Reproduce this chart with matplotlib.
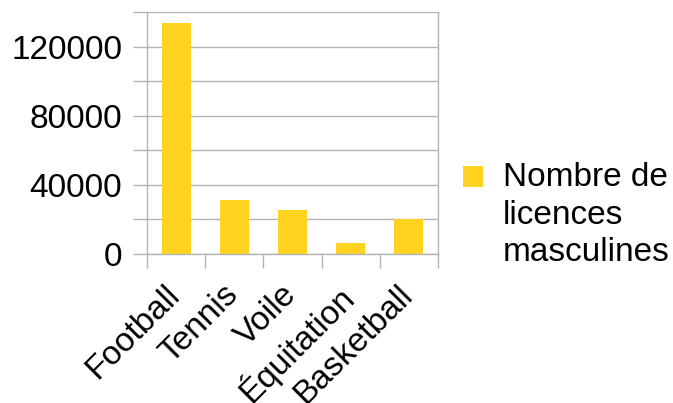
import matplotlib
matplotlib.use('Agg')
import matplotlib.pyplot as plt
from matplotlib.patches import Rectangle
from matplotlib.legend_handler import HandlerPatch
from matplotlib.ticker import FixedLocator, NullFormatter
from matplotlib.transforms import ScaledTranslation

plt.rcParams['font.family'] = ['Liberation Sans', 'DejaVu Sans']

sports = ['Football', 'Tennis', 'Voile', 'Équitation', 'Basketball']
licences = [133600, 31100, 25300, 6200, 20300]
series_name = 'Nombre de\nlicences\nmasculines'
y_ticks = [0, 20000, 40000, 60000, 80000, 100000, 120000, 140000]
y_labels = ['0', '', '40000', '', '80000', '', '120000', '']

bar_color = '#ffd320'
grid_color = '#b3b3b3'
fs = 24

fig = plt.figure(figsize=(6.73, 4.03), dpi=100)
ax = fig.add_axes([147 / 673, 1 - 254 / 403, 291 / 673, 242 / 403])

x = list(range(len(sports)))
bars = ax.bar(x, licences, width=0.5, color=bar_color, zorder=2)

ax.set_xlim(-0.5, len(sports) - 0.5)
ax.set_ylim(0, 140000)

# y axis: ticks every 20000, labels every 40000
ax.set_yticks(y_ticks)
ax.set_yticklabels(y_labels)
ax.yaxis.grid(True, color=grid_color, lw=1.0, zorder=0)
ax.tick_params(axis='y', length=10, width=1.0, color=grid_color, pad=8, labelsize=fs)

# x axis: tick marks at category boundaries, labels at centres
ax.xaxis.set_major_locator(FixedLocator([i - 0.5 for i in range(len(sports) + 1)]))
ax.xaxis.set_major_formatter(NullFormatter())
ax.xaxis.set_minor_locator(FixedLocator(x))
ax.set_xticklabels(sports, minor=True)
ax.tick_params(axis='x', which='major', length=10, width=1.0, color=grid_color)
ax.tick_params(axis='x', which='minor', length=0, pad=18, labelsize=fs)
shift = ScaledTranslation(10 / 100, 0, fig.dpi_scale_trans)
for lbl in ax.get_xticklabels(minor=True):
    lbl.set_rotation(45)
    lbl.set_ha('right')
    lbl.set_va('top')
    lbl.set_transform(lbl.get_transform() + shift)

for side in ['left', 'right', 'bottom']:
    ax.spines[side].set_color(grid_color)
    ax.spines[side].set_linewidth(1.0)
ax.spines['top'].set_visible(False)
ax.set_axisbelow(True)


def top_square(legend, orig_handle, xdescent, ydescent, width, height, fontsize):
    # put the key next to the first line of the label
    return Rectangle((-xdescent, -ydescent + 1.16 * fontsize), width, height)


leg = ax.legend([bars.patches[0]], [series_name],
                handler_map={Rectangle: HandlerPatch(patch_func=top_square)},
                loc='center left', bbox_to_anchor=(463 / 673, 1 - 215 / 403),
                bbox_transform=fig.transFigure, frameon=False, prop={'size': fs},
                handlelength=0.6, handleheight=0.6, handletextpad=0.6,
                borderpad=0, borderaxespad=0)
leg.get_texts()[0].set_linespacing(1.27)

fig.savefig('out.png', dpi=100)
